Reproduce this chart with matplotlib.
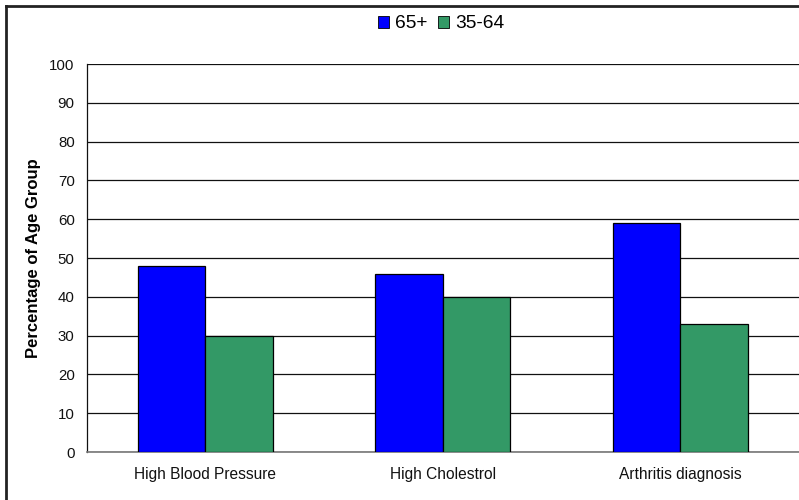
import matplotlib
matplotlib.use("Agg")
import matplotlib.pyplot as plt
import numpy as np
from matplotlib.lines import Line2D

categories = ["High Blood Pressure", "High Cholestrol", "Arthritis diagnosis"]
series_names = ["65+", "35-64"]
values_65_plus = [48, 46, 59]
values_35_64 = [30, 40, 33]
y_ticks = list(range(0, 101, 10))

colors = ["#0000FF", "#339966"]

plt.rcParams["font.family"] = ["Liberation Sans", "DejaVu Sans"]

W, H = 799, 500
fig = plt.figure(figsize=(W / 100, H / 100), dpi=100)
fig.patch.set_facecolor("white")

# outer chart frame (left and top edges visible)
fig.add_artist(Line2D([5.5 / W, 5.5 / W], [0, 1 - 5.5 / H], transform=fig.transFigure,
                      color="#222222", lw=2.0))
fig.add_artist(Line2D([5.5 / W, 1], [1 - 5.5 / H, 1 - 5.5 / H], transform=fig.transFigure,
                      color="#222222", lw=2.0))

left, right = 86.5, 799
top, bottom = 64, 452
ax = fig.add_axes([left / W, 1 - bottom / H, (right - left) / W, (bottom - top) / H])

x = np.arange(len(categories))
width = 0.285
ax.bar(x - width / 2, values_65_plus, width, color=colors[0], edgecolor="black",
       linewidth=0.9, label=series_names[0], zorder=3)
ax.bar(x + width / 2, values_35_64, width, color=colors[1], edgecolor="black",
       linewidth=0.9, label=series_names[1], zorder=3)

ax.set_xlim(-0.5, len(categories) - 0.5)
ax.set_ylim(0, 100)
ax.set_yticks(y_ticks)
ax.set_xticks(x)
ax.set_xticklabels(categories)
ax.yaxis.grid(True, color="#111111", linewidth=0.9, zorder=0)
ax.set_axisbelow(True)

for side in ["top", "right"]:
    ax.spines[side].set_visible(False)
ax.spines["left"].set_color("#111111")
ax.spines["left"].set_linewidth(0.9)
ax.spines["bottom"].set_color("#777777")
ax.spines["bottom"].set_linewidth(1.2)

ax.tick_params(axis="y", length=0, pad=8.5, labelsize=10.8, labelcolor="#111111")
ax.tick_params(axis="x", length=0, pad=11, labelsize=11.2, labelcolor="#111111")

ax.set_ylabel("Percentage of Age Group", fontsize=12, fontweight="bold", labelpad=6)

leg = fig.legend(loc="center", bbox_to_anchor=(441 / W, 1 - 24 / H), ncol=2,
                 frameon=False, fontsize=13.8, handlelength=0.58, handleheight=0.58,
                 handletextpad=0.3, columnspacing=0.58, borderpad=0.2)
for p in leg.get_patches():
    p.set_linewidth(0.6)

fig.savefig("out.png", dpi=100, facecolor="white")
